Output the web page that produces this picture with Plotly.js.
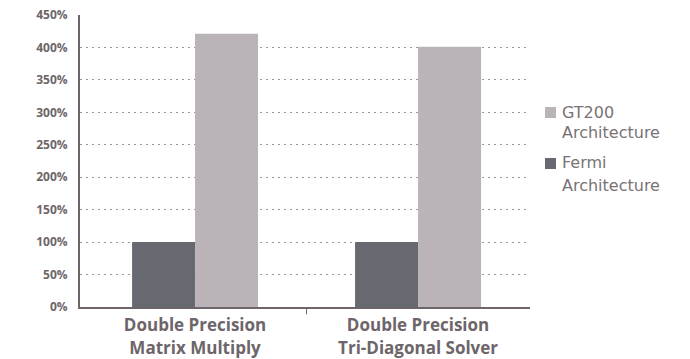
<!DOCTYPE html>
<html>
<head>
<meta charset="utf-8">
<script src="https://cdn.plot.ly/plotly-3.0.1.min.js"></script>
<style>html,body{margin:0;padding:0;background:#fff;}#chart{width:690px;height:359px;}</style>
</head>
<body>
<div id="chart"></div>
<script>
const categories = ["Double Precision<br>Matrix Multiply", "Double Precision<br>Tri-Diagonal Solver"];
const fermiValues = [100, 100];
const gt200Values = [421, 401];
const seriesNames = ["Fermi<br>Architecture", "GT200<br>Architecture"];
const seriesColors = ["#666a70", "#bab4b8"];
const yTickVals = [0, 50, 100, 150, 200, 250, 300, 350, 400, 450];
const yTickText = yTickVals.map(v => v + "%");

const traces = [
  {type: "bar", x: categories, y: fermiValues, name: seriesNames[0], marker: {color: seriesColors[0]}, hoverinfo: "none"},
  {type: "bar", x: categories, y: gt200Values, name: seriesNames[1], marker: {color: seriesColors[1]}, hoverinfo: "none"}
];

// Custom legend (GT200 on top, Fermi below)
const legendItems = [
  {name: seriesNames[1], color: seriesColors[1], sq: [0.6849, 0.6473], lines: [0.6644, 0.5959]},
  {name: seriesNames[0], color: seriesColors[0], sq: [0.5103, 0.4726], lines: [0.4932, 0.4144]}
];
const shapes = [
  {type: "line", xref: "x", yref: "paper", x0: 0.5, x1: 0.5, y0: 0, y1: -0.025, line: {color: "#6d6569", width: 1}}
];
const annotations = [];
legendItems.forEach(it => {
  shapes.push({type: "rect", xref: "paper", yref: "paper", x0: 1.0333, x1: 1.0578, y0: it.sq[1], y1: it.sq[0],
    fillcolor: it.color, line: {width: 0}});
  it.name.split("<br>").forEach((t, i) => {
    annotations.push({xref: "paper", yref: "paper", x: 1.0667, y: it.lines[i], xanchor: "left", yanchor: "middle",
      text: t, showarrow: false, font: {family: "'DejaVu Sans', sans-serif", size: 16, color: "#7a7275"}});
  });
});

const layout = {
  width: 690, height: 359,
  margin: {l: 80, r: 160, t: 15, b: 52},
  paper_bgcolor: "#fff", plot_bgcolor: "#fff",
  barmode: "group", bargap: 0.435, bargroupgap: 0,
  showlegend: false,
  font: {family: "'Open Sans', sans-serif", color: "#6d6569"},
  xaxis: {
    type: "category", range: [-0.516, 1.502], showline: true, linecolor: "#6d6569", linewidth: 2,
    ticks: "", showgrid: false, fixedrange: true, ticklabelstandoff: 2,
    tickfont: {family: "'Open Sans', sans-serif", size: 17, color: "#6d6569", weight: "bold"}
  },
  yaxis: {
    range: [0, 450], tickvals: yTickVals, ticktext: yTickText,
    showline: true, linecolor: "#6d6569", linewidth: 2, ticks: "",
    showgrid: true, gridcolor: "#9a9497", griddash: "2px,4px", gridwidth: 1, zeroline: false,
    ticklabelstandoff: 8,
    tickfont: {family: "'Open Sans', sans-serif", size: 12, color: "#6d6569", weight: "bold"}
  },
  shapes: shapes,
  annotations: annotations
};

Plotly.newPlot("chart", traces, layout, {displayModeBar: false, staticPlot: true});
</script>
</body>
</html>
